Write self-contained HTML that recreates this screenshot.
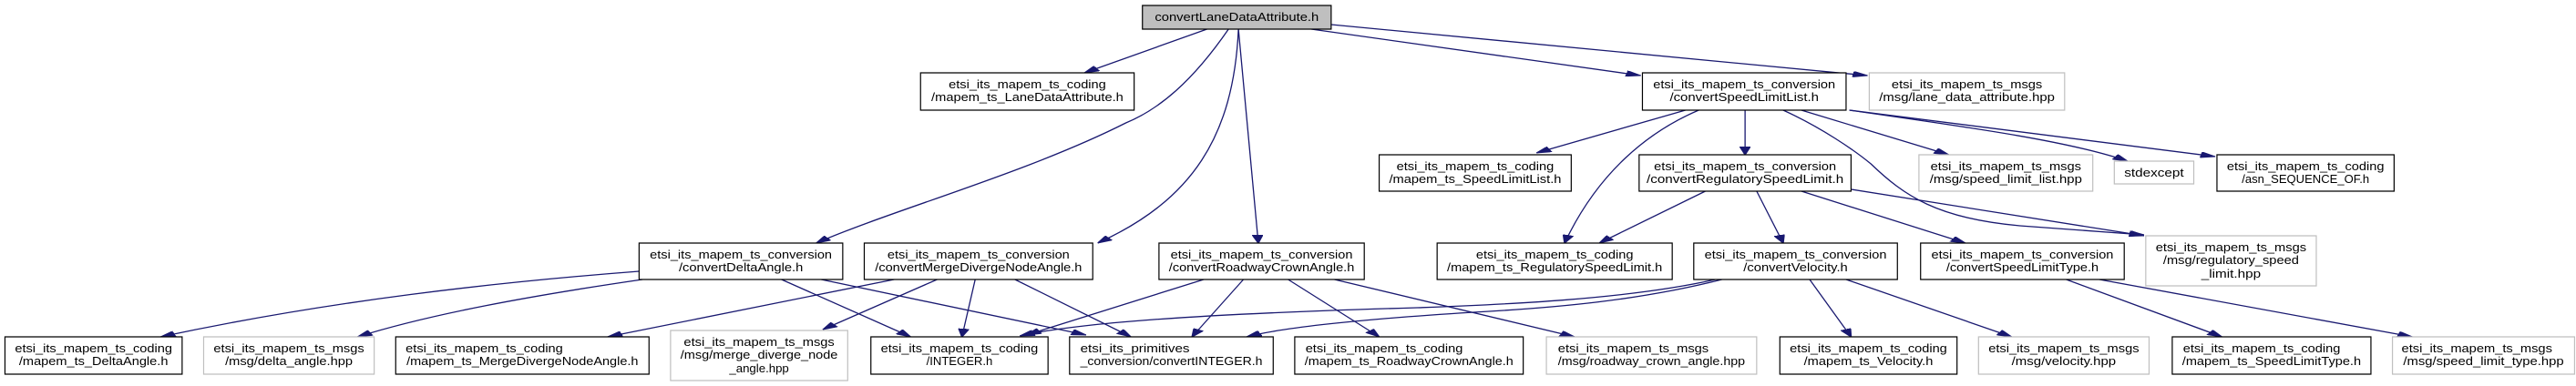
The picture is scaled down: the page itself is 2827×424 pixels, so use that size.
<!DOCTYPE html>
<html><head><meta charset="utf-8"><style>
html,body{margin:0;padding:0;background:#fff;}
svg{display:block;}
text{font-family:"Liberation Sans",sans-serif;font-size:13px;fill:#000;}
.b{fill:#fff;stroke:#000;stroke-width:1.2;vector-effect:non-scaling-stroke;}
.g{fill:#fff;stroke:#bfbfbf;stroke-width:1.2;vector-effect:non-scaling-stroke;}
.e{fill:none;stroke:#191970;stroke-width:1.3;vector-effect:non-scaling-stroke;marker-end:url(#a);}
</style></head><body>
<svg width="2827" height="424" viewBox="0 0 2827 424">
<defs><marker id="a" markerUnits="userSpaceOnUse" viewBox="0 0 10 7" refX="10" refY="3.5" markerWidth="9" markerHeight="6.5" orient="auto"><path d="M0,0L10,3.5L0,7z" fill="#191970" stroke="#191970"/></marker></defs>
<g transform="scale(1.817,1)">
<!-- edges -->
<path class="e" d="M729,32L655,80"/>
<path class="e" d="M742,32C720,90 700,120 680,135C620,190 540,230 493,267"/>
<path class="e" d="M748,32C745,150 720,220 663,267"/>
<path class="e" d="M748,32L760,267"/>
<path class="e" d="M792,32L991,83"/>
<path class="e" d="M804,27L1128,83"/>
<path class="e" d="M1018,121L928,168"/>
<path class="e" d="M1026,121C995,145 965,190 945,267"/>
<path class="e" d="M1054,121L1054,170"/>
<path class="e" d="M1088,121L1177,170"/>
<path class="e" d="M1117,121C1190,140 1250,155 1285,177"/>
<path class="e" d="M1117,121L1338,172"/>
<path class="e" d="M1077,121C1100,140 1120,165 1130,180C1150,215 1170,240 1220,248C1250,252 1275,255 1295,258"/>
<path class="e" d="M1030,210L966,267"/>
<path class="e" d="M1061,210L1077,267"/>
<path class="e" d="M1088,210L1187,267"/>
<path class="e" d="M1118,208L1295,259"/>
<path class="e" d="M1036,307C980,330 900,335 856,338C720,345 650,355 616,369"/>
<path class="e" d="M1040,307C990,330 940,338 890,343C810,352 770,362 753,370"/>
<path class="e" d="M1093,307L1118,370"/>
<path class="e" d="M1115,307L1215,370"/>
<path class="e" d="M1248,307L1342,370"/>
<path class="e" d="M1268,307L1457,370"/>
<path class="e" d="M727,307L620,368"/>
<path class="e" d="M751,307L720,370"/>
<path class="e" d="M778,307L833,370"/>
<path class="e" d="M806,307L951,370"/>
<path class="e" d="M540,307L367,370"/>
<path class="e" d="M566,307L497,362"/>
<path class="e" d="M589,307L581,370"/>
<path class="e" d="M613,307L683,370"/>
<path class="e" d="M386,298C300,310 200,330 97,370"/>
<path class="e" d="M388,307C320,325 260,345 216,370"/>
<path class="e" d="M472,307L550,370"/>
<path class="e" d="M496,307L656,368"/>
<!-- nodes -->
<rect x="690" y="6" width="114" height="26" fill="#bfbfbf" stroke="#000" stroke-width="1.2" vector-effect="non-scaling-stroke"/>
<text x="747" y="23" text-anchor="middle" textLength="99" lengthAdjust="spacingAndGlyphs">convertLaneDataAttribute.h</text>

<rect class="b" x="556" y="80" width="129" height="41"/>
<text x="620.5" y="97" text-anchor="middle" textLength="95" lengthAdjust="spacingAndGlyphs">etsi_its_mapem_ts_coding</text>
<text x="620.5" y="111" text-anchor="middle" textLength="116" lengthAdjust="spacingAndGlyphs">/mapem_ts_LaneDataAttribute.h</text>

<rect class="b" x="992" y="80" width="123" height="41"/>
<text x="1053.5" y="97" text-anchor="middle" textLength="110" lengthAdjust="spacingAndGlyphs">etsi_its_mapem_ts_conversion</text>
<text x="1053.5" y="111" text-anchor="middle" textLength="90" lengthAdjust="spacingAndGlyphs">/convertSpeedLimitList.h</text>

<rect class="g" x="1129" y="80" width="118" height="41"/>
<text x="1188" y="97" text-anchor="middle" textLength="91" lengthAdjust="spacingAndGlyphs">etsi_its_mapem_ts_msgs</text>
<text x="1188" y="111" text-anchor="middle" textLength="106" lengthAdjust="spacingAndGlyphs">/msg/lane_data_attribute.hpp</text>

<rect class="b" x="833" y="170" width="116" height="40"/>
<text x="891" y="187" text-anchor="middle" textLength="95" lengthAdjust="spacingAndGlyphs">etsi_its_mapem_ts_coding</text>
<text x="891" y="201" text-anchor="middle" textLength="104" lengthAdjust="spacingAndGlyphs">/mapem_ts_SpeedLimitList.h</text>

<rect class="b" x="990" y="170" width="128" height="40"/>
<text x="1054" y="187" text-anchor="middle" textLength="110" lengthAdjust="spacingAndGlyphs">etsi_its_mapem_ts_conversion</text>
<text x="1054" y="201" text-anchor="middle" textLength="119" lengthAdjust="spacingAndGlyphs">/convertRegulatorySpeedLimit.h</text>

<rect class="g" x="1159" y="170" width="105" height="40"/>
<text x="1211.5" y="187" text-anchor="middle" textLength="91" lengthAdjust="spacingAndGlyphs">etsi_its_mapem_ts_msgs</text>
<text x="1211.5" y="201" text-anchor="middle" textLength="92" lengthAdjust="spacingAndGlyphs">/msg/speed_limit_list.hpp</text>

<rect class="g" x="1277" y="177" width="48" height="25"/>
<text x="1301" y="194" text-anchor="middle" textLength="36" lengthAdjust="spacingAndGlyphs">stdexcept</text>

<rect class="b" x="1339" y="170" width="107" height="40"/>
<text x="1392.5" y="187" text-anchor="middle" textLength="95" lengthAdjust="spacingAndGlyphs">etsi_its_mapem_ts_coding</text>
<text x="1392.5" y="201" text-anchor="middle" textLength="77" lengthAdjust="spacingAndGlyphs">/asn_SEQUENCE_OF.h</text>

<rect class="b" x="386" y="267" width="123" height="40"/>
<text x="447.5" y="284" text-anchor="middle" textLength="110" lengthAdjust="spacingAndGlyphs">etsi_its_mapem_ts_conversion</text>
<text x="447.5" y="298" text-anchor="middle" textLength="75" lengthAdjust="spacingAndGlyphs">/convertDeltaAngle.h</text>

<rect class="b" x="522" y="267" width="138" height="40"/>
<text x="591" y="284" text-anchor="middle" textLength="110" lengthAdjust="spacingAndGlyphs">etsi_its_mapem_ts_conversion</text>
<text x="591" y="298" text-anchor="middle" textLength="125" lengthAdjust="spacingAndGlyphs">/convertMergeDivergeNodeAngle.h</text>

<rect class="b" x="700" y="267" width="124" height="40"/>
<text x="762" y="284" text-anchor="middle" textLength="110" lengthAdjust="spacingAndGlyphs">etsi_its_mapem_ts_conversion</text>
<text x="762" y="298" text-anchor="middle" textLength="112" lengthAdjust="spacingAndGlyphs">/convertRoadwayCrownAngle.h</text>

<rect class="b" x="868" y="267" width="142" height="40"/>
<text x="939" y="284" text-anchor="middle" textLength="95" lengthAdjust="spacingAndGlyphs">etsi_its_mapem_ts_coding</text>
<text x="939" y="298" text-anchor="middle" textLength="130" lengthAdjust="spacingAndGlyphs">/mapem_ts_RegulatorySpeedLimit.h</text>

<rect class="b" x="1023" y="267" width="123" height="40"/>
<text x="1084.5" y="284" text-anchor="middle" textLength="110" lengthAdjust="spacingAndGlyphs">etsi_its_mapem_ts_conversion</text>
<text x="1084.5" y="298" text-anchor="middle" textLength="63" lengthAdjust="spacingAndGlyphs">/convertVelocity.h</text>

<rect class="b" x="1160" y="267" width="123" height="40"/>
<text x="1221.5" y="284" text-anchor="middle" textLength="110" lengthAdjust="spacingAndGlyphs">etsi_its_mapem_ts_conversion</text>
<text x="1221.5" y="298" text-anchor="middle" textLength="92" lengthAdjust="spacingAndGlyphs">/convertSpeedLimitType.h</text>

<rect class="g" x="1296" y="259" width="103" height="55"/>
<text x="1347.5" y="276" text-anchor="middle" textLength="91" lengthAdjust="spacingAndGlyphs">etsi_its_mapem_ts_msgs</text>
<text x="1347.5" y="290" text-anchor="middle" textLength="82" lengthAdjust="spacingAndGlyphs">/msg/regulatory_speed</text>
<text x="1347.5" y="305" text-anchor="middle" textLength="36" lengthAdjust="spacingAndGlyphs">_limit.hpp</text>

<rect class="b" x="3" y="370" width="107" height="41"/>
<text x="56.5" y="387" text-anchor="middle" textLength="95" lengthAdjust="spacingAndGlyphs">etsi_its_mapem_ts_coding</text>
<text x="56.5" y="401" text-anchor="middle" textLength="90" lengthAdjust="spacingAndGlyphs">/mapem_ts_DeltaAngle.h</text>

<rect class="g" x="123" y="370" width="103" height="41"/>
<text x="174.5" y="387" text-anchor="middle" textLength="91" lengthAdjust="spacingAndGlyphs">etsi_its_mapem_ts_msgs</text>
<text x="174.5" y="401" text-anchor="middle" textLength="77" lengthAdjust="spacingAndGlyphs">/msg/delta_angle.hpp</text>

<rect class="b" x="239" y="370" width="153" height="41"/>
<text x="315.5" y="387" text-anchor="middle" textLength="95" lengthAdjust="spacingAndGlyphs" dx="-23">etsi_its_mapem_ts_coding</text>
<text x="315.5" y="401" text-anchor="middle" textLength="140" lengthAdjust="spacingAndGlyphs">/mapem_ts_MergeDivergeNodeAngle.h</text>

<rect class="g" x="405" y="363" width="107" height="55"/>
<text x="458.5" y="380" text-anchor="middle" textLength="91" lengthAdjust="spacingAndGlyphs">etsi_its_mapem_ts_msgs</text>
<text x="458.5" y="394" text-anchor="middle" textLength="95" lengthAdjust="spacingAndGlyphs">/msg/merge_diverge_node</text>
<text x="458.5" y="409" text-anchor="middle" textLength="36" lengthAdjust="spacingAndGlyphs">_angle.hpp</text>

<rect class="b" x="526" y="370" width="107" height="41"/>
<text x="579.5" y="387" text-anchor="middle" textLength="95" lengthAdjust="spacingAndGlyphs">etsi_its_mapem_ts_coding</text>
<text x="579.5" y="401" text-anchor="middle" textLength="40" lengthAdjust="spacingAndGlyphs">/INTEGER.h</text>

<rect class="b" x="646" y="370" width="123" height="41"/>
<text x="707.5" y="387" text-anchor="middle" textLength="66" lengthAdjust="spacingAndGlyphs" dx="-22">etsi_its_primitives</text>
<text x="707.5" y="401" text-anchor="middle" textLength="110" lengthAdjust="spacingAndGlyphs">_conversion/convertINTEGER.h</text>

<rect class="b" x="782" y="370" width="138" height="41"/>
<text x="851" y="387" text-anchor="middle" textLength="95" lengthAdjust="spacingAndGlyphs" dx="-15">etsi_its_mapem_ts_coding</text>
<text x="851" y="401" text-anchor="middle" textLength="126" lengthAdjust="spacingAndGlyphs">/mapem_ts_RoadwayCrownAngle.h</text>

<rect class="g" x="934" y="370" width="127" height="41"/>
<text x="997.5" y="387" text-anchor="middle" textLength="91" lengthAdjust="spacingAndGlyphs" dx="-11">etsi_its_mapem_ts_msgs</text>
<text x="997.5" y="401" text-anchor="middle" textLength="113" lengthAdjust="spacingAndGlyphs">/msg/roadway_crown_angle.hpp</text>

<rect class="b" x="1075" y="370" width="107" height="41"/>
<text x="1128.5" y="387" text-anchor="middle" textLength="95" lengthAdjust="spacingAndGlyphs">etsi_its_mapem_ts_coding</text>
<text x="1128.5" y="401" text-anchor="middle" textLength="78" lengthAdjust="spacingAndGlyphs">/mapem_ts_Velocity.h</text>

<rect class="g" x="1195" y="370" width="103" height="41"/>
<text x="1246.5" y="387" text-anchor="middle" textLength="91" lengthAdjust="spacingAndGlyphs">etsi_its_mapem_ts_msgs</text>
<text x="1246.5" y="401" text-anchor="middle" textLength="63" lengthAdjust="spacingAndGlyphs">/msg/velocity.hpp</text>

<rect class="b" x="1312" y="370" width="120" height="41"/>
<text x="1372" y="387" text-anchor="middle" textLength="95" lengthAdjust="spacingAndGlyphs" dx="-6">etsi_its_mapem_ts_coding</text>
<text x="1372" y="401" text-anchor="middle" textLength="108" lengthAdjust="spacingAndGlyphs">/mapem_ts_SpeedLimitType.h</text>

<rect class="g" x="1445" y="370" width="110" height="41"/>
<text x="1500" y="387" text-anchor="middle" textLength="91" lengthAdjust="spacingAndGlyphs" dx="-4">etsi_its_mapem_ts_msgs</text>
<text x="1500" y="401" text-anchor="middle" textLength="97" lengthAdjust="spacingAndGlyphs">/msg/speed_limit_type.hpp</text>
</g>
</svg>
</body></html>
